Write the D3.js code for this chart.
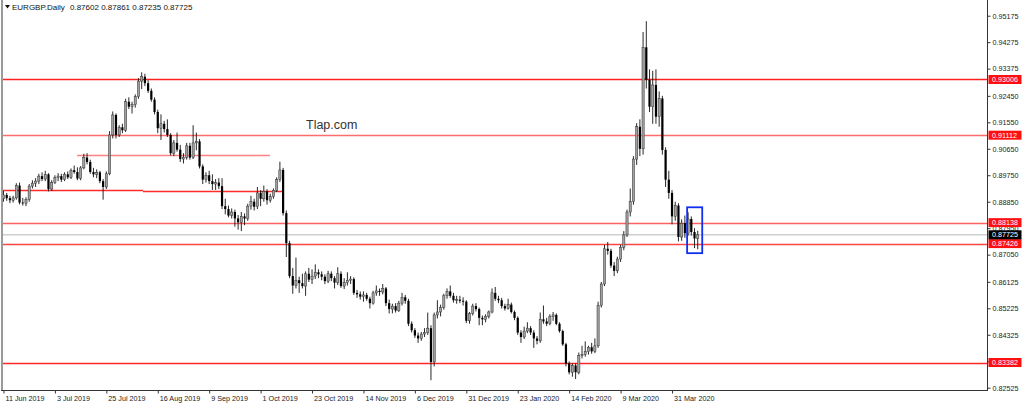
<!DOCTYPE html>
<html><head><meta charset="utf-8">
<script src="https://cdn.jsdelivr.net/npm/d3@7"></script>
<style>html,body{margin:0;padding:0;background:#fff;}svg{display:block;font-family:"Liberation Sans",Arial,sans-serif;}</style>
</head><body><svg id="c" width="1024" height="407"></svg>
<script>
const symbolTitle = "EURGBP.Daily";
const lastQuote = ["0.87602","0.87861","0.87235","0.87725"];
const watermark = "Tlap.com";
const firstDay = [2019, 5, 11];
const holidays = ["2019-12-25","2020-01-01"];

const open = [
0.8895,0.8908,0.8897,0.8890,0.8898,0.8940,0.8882,0.8880,0.8892,0.8938,
0.8948,0.8955,0.8972,0.8962,0.8978,0.8928,0.8950,0.8968,0.8972,0.8960,
0.8978,0.8968,0.8992,0.8986,0.8964,0.9000,0.9035,0.9020,0.8986,0.8978,
0.8985,0.8955,0.8935,0.8980,0.9112,0.9180,0.9112,0.9138,0.9128,0.9225,
0.9208,0.9215,0.9242,0.9295,0.9310,0.9288,0.9262,0.9232,0.9190,0.9135,
0.9150,0.9132,0.9112,0.9050,0.9085,0.9062,0.9030,0.9036,0.9075,0.9035,
0.9085,0.9090,0.9005,0.8960,0.8975,0.8955,0.8945,0.8950,0.8938,0.8870,
0.8860,0.8838,0.8850,0.8828,0.8815,0.8835,0.8828,0.8870,0.8885,0.8868,
0.8915,0.8895,0.8920,0.8890,0.8902,0.8924,0.8960,0.8993,0.8846,0.8744,
0.8632,0.8600,0.8618,0.8608,0.8598,0.8640,0.8620,0.8632,0.8645,0.8638,
0.8630,0.8615,0.8640,0.8625,0.8610,0.8640,0.8598,0.8610,0.8618,0.8622,
0.8575,0.8570,0.8562,0.8568,0.8555,0.8540,0.8575,0.8582,0.8578,0.8590,
0.8540,0.8520,0.8530,0.8515,0.8540,0.8560,0.8548,0.8470,0.8448,0.8430,
0.8420,0.8435,0.8440,0.8455,0.8340,0.8500,0.8510,0.8525,0.8565,0.8580,
0.8565,0.8550,0.8552,0.8548,0.8545,0.8480,0.8505,0.8530,0.8520,0.8490,
0.8485,0.8495,0.8510,0.8575,0.8555,0.8550,0.8530,0.8522,0.8535,0.8510,
0.8490,0.8440,0.8425,0.8445,0.8455,0.8440,0.8420,0.8412,0.8485,0.8478,
0.8470,0.8495,0.8500,0.8470,0.8445,0.8400,0.8335,0.8305,0.8328,0.8305,
0.8362,0.8366,0.8375,0.8390,0.8376,0.8395,0.8532,0.8605,0.8725,0.8718,
0.8668,0.8650,0.8690,0.8730,0.8772,0.8850,0.8885,0.9030,0.9140,0.9065,
0.9410,0.9300,0.9208,0.9282,0.9174,0.9236,0.9061,0.8960,0.8915,0.8835,
0.8872,0.8765,0.8812,0.8778,0.8826,0.8782,0.87602];

const high = [
0.8922,0.8915,0.8905,0.8905,0.8948,0.8950,0.8898,0.8900,0.8945,0.8958,
0.8965,0.8980,0.8985,0.8990,0.8982,0.8958,0.8975,0.8982,0.8980,0.8985,
0.8988,0.8998,0.9008,0.9002,0.9006,0.9048,0.9050,0.9028,0.9000,0.8995,
0.8990,0.8962,0.8988,0.9125,0.9192,0.9185,0.9145,0.9150,0.9235,0.9240,
0.9225,0.9250,0.9305,0.9325,0.9320,0.9298,0.9270,0.9240,0.9198,0.9182,
0.9160,0.9165,0.9118,0.9095,0.9120,0.9078,0.9050,0.9085,0.9085,0.9145,
0.9120,0.9098,0.9012,0.8985,0.8990,0.8978,0.8962,0.8965,0.8965,0.8895,
0.8872,0.8862,0.8858,0.8840,0.8850,0.8845,0.8878,0.8905,0.8895,0.8935,
0.8925,0.8940,0.8928,0.8912,0.8930,0.8968,0.9021,0.9000,0.8855,0.8752,
0.8660,0.8695,0.8630,0.8640,0.8648,0.8660,0.8655,0.8672,0.8655,0.8648,
0.8638,0.8650,0.8648,0.8632,0.8662,0.8648,0.8625,0.8645,0.8632,0.8628,
0.8585,0.8580,0.8580,0.8575,0.8562,0.8582,0.8600,0.8590,0.8605,0.8595,
0.8552,0.8538,0.8540,0.8548,0.8575,0.8568,0.8555,0.8478,0.8455,0.8440,
0.8442,0.8455,0.8508,0.8465,0.8508,0.8550,0.8535,0.8572,0.8590,0.8600,
0.8575,0.8565,0.8565,0.8560,0.8550,0.8510,0.8538,0.8540,0.8525,0.8498,
0.8502,0.8515,0.8590,0.8595,0.8565,0.8558,0.8538,0.8555,0.8542,0.8515,
0.8495,0.8448,0.8460,0.8475,0.8462,0.8448,0.8428,0.8508,0.8532,0.8490,
0.8502,0.8510,0.8505,0.8475,0.8450,0.8405,0.8342,0.8335,0.8335,0.8372,
0.8395,0.8410,0.8395,0.8405,0.8420,0.8545,0.8612,0.8738,0.8748,0.8725,
0.8680,0.8698,0.8738,0.8785,0.8858,0.8930,0.9040,0.9152,0.9165,0.9462,
0.9499,0.9335,0.9330,0.9335,0.9260,0.9245,0.9070,0.8990,0.8925,0.8885,
0.8880,0.8825,0.8838,0.8849,0.8835,0.8795,0.87861];

const low = [
0.8885,0.8888,0.8880,0.8882,0.8892,0.8876,0.8872,0.8870,0.8885,0.8930,
0.8935,0.8945,0.8955,0.8955,0.8920,0.8922,0.8945,0.8955,0.8952,0.8955,
0.8962,0.8962,0.8980,0.8958,0.8958,0.8995,0.9012,0.8980,0.8968,0.8965,
0.8948,0.8892,0.8928,0.8975,0.9100,0.9100,0.9105,0.9118,0.9122,0.9200,
0.9185,0.9205,0.9235,0.9268,0.9278,0.9255,0.9225,0.9182,0.9118,0.9095,
0.9120,0.9105,0.9042,0.9040,0.9055,0.9020,0.9015,0.9028,0.9028,0.9030,
0.9060,0.8998,0.8945,0.8950,0.8945,0.8925,0.8925,0.8928,0.8860,0.8842,
0.8832,0.8828,0.8800,0.8790,0.8785,0.8805,0.8820,0.8858,0.8855,0.8860,
0.8870,0.8885,0.8875,0.8882,0.8895,0.8918,0.8952,0.8838,0.8697,0.8625,
0.8572,0.8590,0.8575,0.8590,0.8565,0.8612,0.8605,0.8622,0.8625,0.8618,
0.8605,0.8608,0.8615,0.8590,0.8602,0.8592,0.8588,0.8600,0.8605,0.8568,
0.8558,0.8552,0.8545,0.8548,0.8522,0.8535,0.8565,0.8565,0.8570,0.8530,
0.8505,0.8505,0.8508,0.8510,0.8532,0.8538,0.8462,0.8440,0.8422,0.8405,
0.8412,0.8425,0.8432,0.8278,0.8325,0.8488,0.8495,0.8518,0.8555,0.8558,
0.8542,0.8538,0.8540,0.8532,0.8472,0.8470,0.8498,0.8512,0.8465,0.8465,
0.8475,0.8488,0.8505,0.8548,0.8540,0.8522,0.8515,0.8518,0.8505,0.8482,
0.8432,0.8405,0.8418,0.8438,0.8432,0.8388,0.8400,0.8405,0.8470,0.8462,
0.8465,0.8480,0.8465,0.8440,0.8395,0.8325,0.8298,0.8290,0.8282,0.8298,
0.8352,0.8358,0.8365,0.8368,0.8370,0.8388,0.8525,0.8598,0.8705,0.8660,
0.8632,0.8642,0.8680,0.8720,0.8765,0.8835,0.8875,0.9010,0.9040,0.9045,
0.9270,0.9190,0.9150,0.9150,0.9140,0.9045,0.8935,0.8895,0.8808,0.8820,
0.8750,0.8752,0.8762,0.8770,0.8770,0.8727,0.87235];

const close = [
0.8908,0.8897,0.8890,0.8898,0.8940,0.8882,0.8880,0.8892,0.8938,0.8948,
0.8955,0.8972,0.8962,0.8978,0.8928,0.8950,0.8968,0.8972,0.8960,0.8978,
0.8968,0.8992,0.8986,0.8964,0.9000,0.9035,0.9020,0.8986,0.8978,0.8985,
0.8955,0.8935,0.8980,0.9112,0.9180,0.9112,0.9138,0.9128,0.9225,0.9208,
0.9215,0.9242,0.9295,0.9310,0.9288,0.9262,0.9232,0.9190,0.9135,0.9150,
0.9132,0.9112,0.9050,0.9085,0.9062,0.9030,0.9036,0.9075,0.9035,0.9085,
0.9090,0.9005,0.8960,0.8975,0.8955,0.8945,0.8950,0.8938,0.8870,0.8860,
0.8838,0.8850,0.8828,0.8815,0.8835,0.8828,0.8870,0.8885,0.8868,0.8915,
0.8895,0.8920,0.8890,0.8902,0.8924,0.8960,0.8993,0.8846,0.8744,0.8632,
0.8600,0.8618,0.8608,0.8598,0.8640,0.8620,0.8632,0.8645,0.8638,0.8630,
0.8615,0.8640,0.8625,0.8610,0.8640,0.8598,0.8610,0.8618,0.8622,0.8575,
0.8570,0.8562,0.8568,0.8555,0.8540,0.8575,0.8582,0.8578,0.8590,0.8540,
0.8520,0.8530,0.8515,0.8540,0.8560,0.8548,0.8470,0.8448,0.8430,0.8420,
0.8435,0.8440,0.8455,0.8340,0.8500,0.8510,0.8525,0.8565,0.8580,0.8565,
0.8550,0.8552,0.8548,0.8545,0.8480,0.8505,0.8530,0.8520,0.8490,0.8485,
0.8495,0.8510,0.8575,0.8555,0.8550,0.8530,0.8522,0.8535,0.8510,0.8490,
0.8440,0.8425,0.8445,0.8455,0.8440,0.8420,0.8412,0.8485,0.8478,0.8470,
0.8495,0.8500,0.8470,0.8445,0.8400,0.8335,0.8305,0.8328,0.8305,0.8362,
0.8366,0.8375,0.8390,0.8376,0.8395,0.8532,0.8605,0.8725,0.8718,0.8668,
0.8650,0.8690,0.8730,0.8772,0.8850,0.8885,0.9030,0.9140,0.9065,0.9410,
0.9300,0.9208,0.9282,0.9174,0.9236,0.9061,0.8960,0.8915,0.8835,0.8872,
0.8765,0.8812,0.8778,0.8826,0.8782,0.8760,0.87725];

const dateTickLabels = ["11 Jun 2019","3 Jul 2019","25 Jul 2019","16 Aug 2019","9 Sep 2019","1 Oct 2019","23 Oct 2019","14 Nov 2019","6 Dec 2019","31 Dec 2019","23 Jan 2020","14 Feb 2020","9 Mar 2020","31 Mar 2020"];
const priceTicks = [0.95175,0.94275,0.93375,0.92450,0.91550,0.90650,0.89750,0.88850,0.87950,0.87050,0.86125,0.85225,0.84325,0.83425,0.82525];
const levelLines = [0.93006,0.91112,0.88138,0.87426,0.83382];
const currentPrice = 0.87725;
const shortLevelValues = [0.90438,0.8924,0.8920];
const shortLevelFrom = [22.9,-0.2,43.4];
const shortLevelTo = [82.9,43.4,86.9];
const boxBars = [212.7,217.4];
const boxPrices = [0.8866,0.8710];

// build trading-day calendar
const fmtKey = d3.timeFormat("%Y-%m-%d");
const dates = [];
{
  let d = new Date(firstDay[0], firstDay[1], firstDay[2]);
  while (dates.length < close.length) {
    const wd = d.getDay();
    if (wd !== 0 && wd !== 6 && !holidays.includes(fmtKey(d))) dates.push(fmtKey(d));
    d = d3.timeDay.offset(d, 1);
  }
}
const parseLabel = d3.timeParse("%d %b %Y");
const tickIdx = dateTickLabels.map(l => dates.indexOf(fmtKey(parseLabel(l))));

const svg = d3.select("#c");
const L = 3, R = 987, T = 0, B = 390;
const x = d3.scaleLinear().domain([-0.15, 306]).range([L, R]);
const y = d3.scaleLinear().domain([0.82447, 0.95709]).range([B, T]);
const yc = v => Math.round(y(v)) + 0.5;

svg.append("defs").append("clipPath").attr("id","plot").append("rect")
  .attr("x",L).attr("y",T).attr("width",R-L).attr("height",B-T);
const plot = svg.append("g").attr("clip-path","url(#plot)");

// current price line
plot.append("line").attr("x1",L).attr("x2",R).attr("y1",y(currentPrice)).attr("y2",y(currentPrice))
  .attr("stroke","#cfcfcf").attr("stroke-width",1.5);

// level lines
const lvlColor = ["#ff2020","#ff6c6c","#ff6060","#ff4444","#ff2828"];
plot.selectAll("line.lvl").data(levelLines).join("line").attr("class","lvl")
  .attr("x1",L).attr("x2",R).attr("y1",d=>yc(d)).attr("y2",d=>yc(d))
  .attr("stroke",(d,i)=>lvlColor[i]).attr("stroke-width",1.5);
plot.selectAll("line.slvl").data(shortLevelValues).join("line").attr("class","slvl")
  .attr("x1",(d,i)=>x(shortLevelFrom[i])).attr("x2",(d,i)=>x(shortLevelTo[i]))
  .attr("y1",d=>yc(d)).attr("y2",d=>yc(d))
  .attr("stroke",(d,i)=>i===0?"#ff8080":"#ff2a2a").attr("stroke-width",1.4);

// candles
const idx = d3.range(close.length);
plot.selectAll("line.wick").data(idx).join("line").attr("class","wick")
  .attr("x1",i=>x(i)).attr("x2",i=>x(i)).attr("y1",i=>y(high[i])).attr("y2",i=>y(low[i]))
  .attr("stroke","#111").attr("stroke-width",0.9);
const bw = 2.2;
plot.selectAll("rect.body").data(idx).join("rect").attr("class","body")
  .attr("x",i=>x(i)-bw/2).attr("width",bw)
  .attr("y",i=>y(Math.max(open[i],close[i])))
  .attr("height",i=>Math.max(0.8,Math.abs(y(open[i])-y(close[i]))))
  .attr("fill",i=>close[i]>=open[i]?"#a0a0a0":"#000")
  .attr("stroke",i=>close[i]>=open[i]?"#333":"none").attr("stroke-width",0.5);

// watermark
svg.append("text").attr("x",306).attr("y",129).attr("font-size",12.5).attr("fill","#333").text(watermark);

// blue box
svg.append("rect").attr("x",x(boxBars[0])).attr("y",y(boxPrices[0]))
  .attr("width",x(boxBars[1])-x(boxBars[0])).attr("height",y(boxPrices[1])-y(boxPrices[0]))
  .attr("fill","none").attr("stroke","#1030f0").attr("stroke-width",1.8);

// frame
svg.append("line").attr("x1",2).attr("x2",2).attr("y1",0).attr("y2",B).attr("stroke","#9a9a9a").attr("stroke-width",2);
svg.append("line").attr("x1",1).attr("x2",R+0.5).attr("y1",B+0.5).attr("y2",B+0.5).attr("stroke","#333").attr("stroke-width",1);
svg.append("line").attr("x1",R+0.5).attr("x2",R+0.5).attr("y1",0).attr("y2",B+1).attr("stroke","#333").attr("stroke-width",1);

// axes
const yAxis = d3.axisRight(y).tickValues(priceTicks).tickSize(3).tickPadding(2).tickFormat(d3.format(".5f"));
const gy = svg.append("g").attr("transform",`translate(${R+0.5},0)`).call(yAxis);
gy.select(".domain").remove();
gy.attr("font-size",7.2).attr("font-family","Liberation Sans, Arial, sans-serif");
gy.selectAll("line").attr("stroke","#333");
gy.selectAll("text").attr("fill","#222");

const xAxis = d3.axisBottom(x).tickValues(tickIdx).tickSize(3).tickPadding(2).tickFormat((d,i)=>dateTickLabels[i]);
const gx = svg.append("g").attr("transform",`translate(0,${B+0.5})`).call(xAxis);
gx.select(".domain").remove();
gx.attr("font-size",7.2).attr("font-family","Liberation Sans, Arial, sans-serif");
gx.selectAll("line").attr("stroke","#333");
gx.selectAll("text").attr("text-anchor","start").attr("dx",1.5).attr("fill","#222");

// level labels
const lab = svg.append("g").attr("font-size",7.2);
lab.selectAll("rect").data(levelLines).join("rect")
  .attr("x",R+1.5).attr("width",33).attr("y",d=>y(d)-4.5).attr("height",9).attr("fill","#ff1010");
lab.selectAll("text").data(levelLines).join("text")
  .attr("x",R+5).attr("y",d=>y(d)+2.6).attr("fill","#fff").text(d=>d3.format(".5f")(d));
lab.append("rect").attr("x",R+1.5).attr("width",33).attr("y",y(currentPrice)-4.5).attr("height",9).attr("fill","#000");
lab.append("text").attr("x",R+5).attr("y",y(currentPrice)+2.6).attr("fill","#fff").text(d3.format(".5f")(currentPrice));

// header
const hd = svg.append("g").attr("font-size",8).attr("fill","#111");
hd.append("path").attr("d",d3.line()([[5,5],[10,5],[7.5,8.5]])+"Z").attr("fill","#111");
hd.append("text").attr("x",12).attr("y",9.5).text(symbolTitle);
hd.append("text").attr("x",70).attr("y",9.5).text(lastQuote.join(" "));
</script></body></html>
